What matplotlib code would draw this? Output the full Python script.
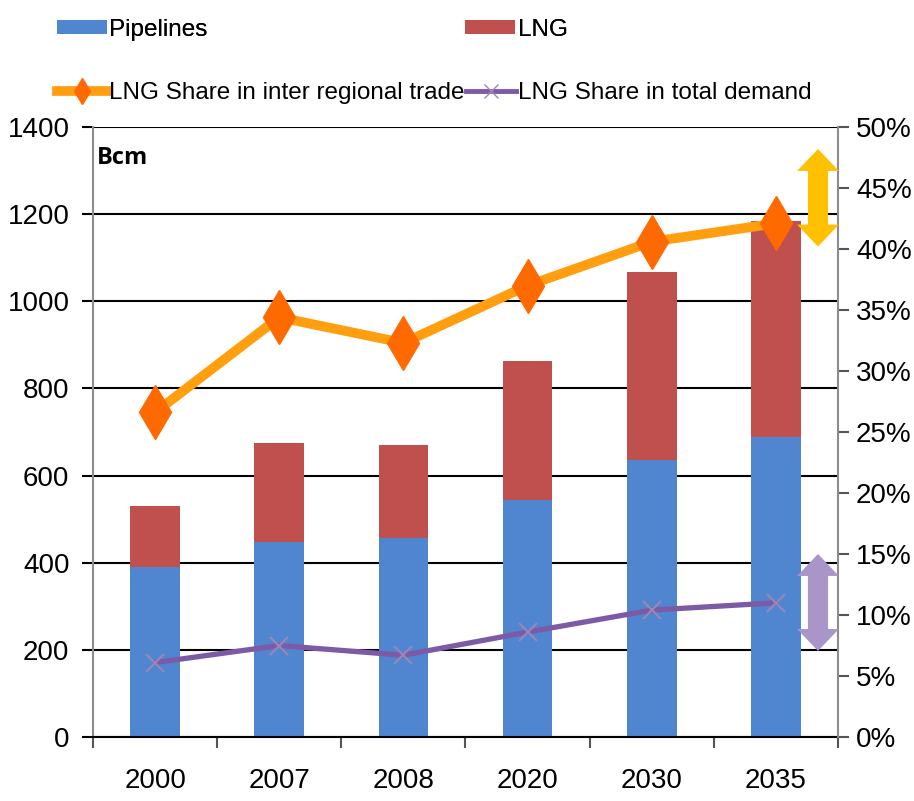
import matplotlib
matplotlib.use("Agg")
import matplotlib.pyplot as plt
from matplotlib.patches import Patch, Polygon
from matplotlib.lines import Line2D
from matplotlib.transforms import blended_transform_factory

# ---- data ----
years = ["2000", "2007", "2008", "2020", "2030", "2035"]
pipelines = [390, 447, 457, 545, 636, 689]
lng = [140, 228, 213, 318, 431, 495]
lng_share_interregional = [26.6, 34.4, 32.3, 37.0, 40.6, 42.1]
lng_share_demand = [6.1, 7.5, 6.7, 8.6, 10.4, 11.0]
left_ticks = [0, 200, 400, 600, 800, 1000, 1200, 1400]
right_ticks = [0, 5, 10, 15, 20, 25, 30, 35, 40, 45, 50]

C_PIPE = "#4F86CF"
C_LNG = "#C0504D"
C_ORANGE_LINE = "#FF9E0F"
C_ORANGE_MARK = "#FF6A00"
C_PURPLE = "#7D5AA6"
C_PURPLE_MARK = "#9A86B8"
C_ARROW_Y = "#FFC000"
C_ARROW_P = "#A995C8"

FONT = ["Liberation Sans", "DejaVu Sans"]
TICK_SIZE = 20

fig = plt.figure(figsize=(9.14, 8.01), dpi=100)
ax = fig.add_axes([93 / 914, 1 - 737 / 801, 745 / 914, 610 / 801])
ax2 = ax.twinx()

x = list(range(len(years)))
w = 0.4

# horizontal grid
for t in left_ticks:
    ax.axhline(t, color="black", lw=1.5, zorder=1)

ax.bar(x, pipelines, width=w, color=C_PIPE, zorder=2)
ax.bar(x, lng, width=w, bottom=pipelines, color=C_LNG, zorder=2)

ax.set_xlim(-0.5, len(years) - 0.5)
ax.set_ylim(0, 1400)
ax.set_yticks(left_ticks)
ax.set_yticklabels([str(t) for t in left_ticks], family=FONT, fontsize=TICK_SIZE)
ax.tick_params(axis="y", length=8, width=1.5, color="black", pad=9)

ax.set_xticks(x)
ax.set_xticklabels(years, family=FONT, fontsize=TICK_SIZE)
ax.set_xticks([i - 0.5 for i in range(len(years) + 1)], minor=True)
ax.tick_params(axis="x", which="major", length=0, pad=22)
ax.tick_params(axis="x", which="minor", length=8, width=1.5, color="#555555")

for s in ["top", "right"]:
    ax.spines[s].set_visible(False)
ax.spines["left"].set_color("#8C8C8C")
ax.spines["left"].set_linewidth(1.5)
ax.spines["bottom"].set_color("black")
ax.spines["bottom"].set_linewidth(1.5)

# share lines on the secondary axis
ax2.plot(x, lng_share_interregional, color=C_ORANGE_LINE, lw=7, zorder=3,
         marker="d", markersize=27, markerfacecolor=C_ORANGE_MARK,
         markeredgecolor=C_ORANGE_MARK, solid_joinstyle="round")
ax2.plot(x, lng_share_demand, color=C_PURPLE, lw=3.8, zorder=3,
         marker="x", markersize=13, markeredgewidth=1.5,
         markeredgecolor=C_PURPLE_MARK)
ax2.set_ylim(0, 50)
ax2.set_yticks(right_ticks)
ax2.set_yticklabels([f"{t}%" for t in right_ticks], family=FONT, fontsize=TICK_SIZE)
ax2.tick_params(axis="y", length=8, width=1.5, color="#555555", pad=5)
for s in ["top", "left", "bottom"]:
    ax2.spines[s].set_visible(False)
ax2.spines["right"].set_color("#8C8C8C")
ax2.spines["right"].set_linewidth(1.5)

# unit label
ax.text(0.005, 0.95, "Bcm", transform=ax.transAxes, fontsize=17,
        fontweight="bold", family=["Open Sans", "DejaVu Sans"],
        ha="left", va="center")

# double-headed range arrows
def double_arrow(axis, xc, y0, y1, color, shaft=0.027, head=0.056, hl=1.8):
    tr = blended_transform_factory(axis.transAxes, axis.transData)
    pts = [
        (xc, y1), (xc + head / 2, y1 - hl), (xc + shaft / 2, y1 - hl),
        (xc + shaft / 2, y0 + hl), (xc + head / 2, y0 + hl), (xc, y0),
        (xc - head / 2, y0 + hl), (xc - shaft / 2, y0 + hl),
        (xc - shaft / 2, y1 - hl), (xc - head / 2, y1 - hl),
    ]
    axis.add_patch(Polygon(pts, closed=True, transform=tr, color=color,
                           clip_on=False, zorder=5, lw=0))

xa = (818 - 93) / 745
double_arrow(ax2, xa, 40.2, 48.2, C_ARROW_Y)
double_arrow(ax2, xa, 7.05, 15.0, C_ARROW_P)

# legend
leg_font = dict(family=FONT, size=17.5)
h_pipe = Patch(facecolor=C_PIPE)
h_lng = Patch(facecolor=C_LNG)
h_or = Line2D([], [], color=C_ORANGE_LINE, lw=7, marker="d", markersize=13,
              markerfacecolor=C_ORANGE_MARK, markeredgecolor=C_ORANGE_MARK)
h_pu = Line2D([], [], color=C_PURPLE, lw=3.5, marker="x", markersize=10,
              markeredgecolor=C_PURPLE_MARK)

leg1 = fig.legend([h_pipe, h_lng], ["Pipelines", "LNG"], ncol=2,
                  loc="center left", bbox_to_anchor=(57 / 914, 1 - 30 / 801),
                  frameon=False, prop=leg_font, handlelength=2.05,
                  handleheight=0.5, handletextpad=0.1, columnspacing=10.6,
                  borderpad=0, borderaxespad=0)
fig.legend([h_or, h_pu],
           ["LNG Share in inter regional trade", "LNG Share in total demand"],
           ncol=2, loc="center left", bbox_to_anchor=(57 / 914, 1 - 93 / 801),
           frameon=False, prop=leg_font, handlelength=2.05,
           handletextpad=0.1, columnspacing=0.05, borderpad=0, borderaxespad=0)
fig.add_artist(leg1)

fig.savefig("out.png", dpi=100, facecolor="white")
